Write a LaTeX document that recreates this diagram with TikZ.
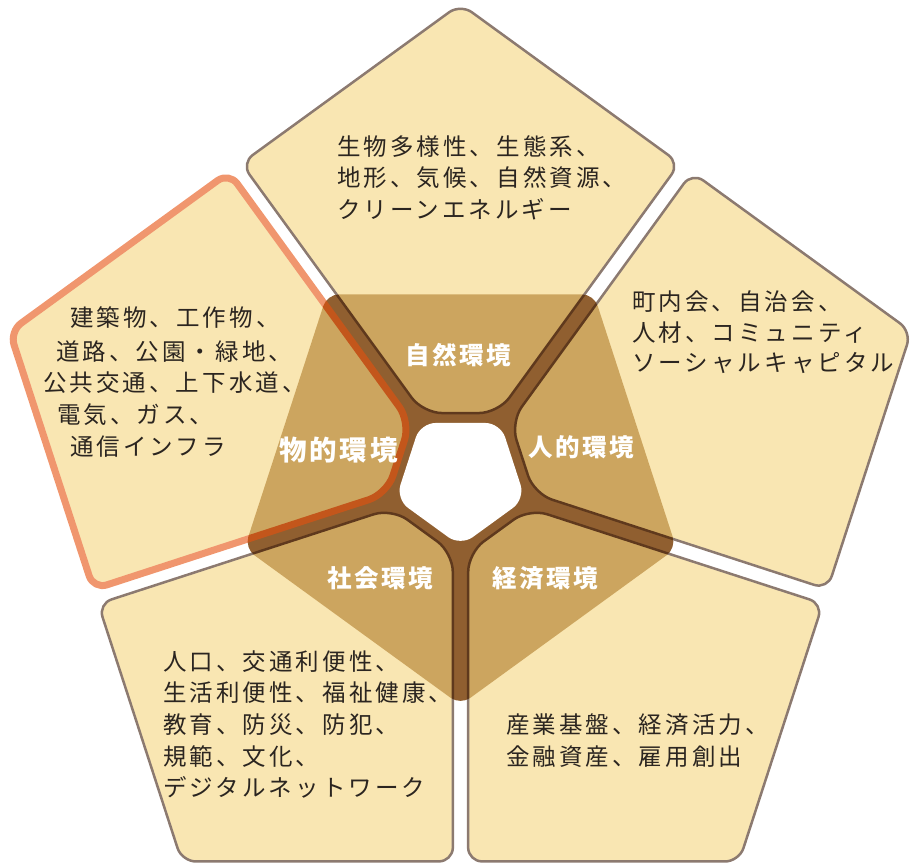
\documentclass[tikz,border=0pt]{standalone}
\usepackage{fontspec}
\newfontfamily\jp[LetterSpace=13]{Noto Sans CJK JP}
\newfontfamily\jpl[LetterSpace=10]{Noto Sans CJK JP}
\definecolor{chan}{RGB}{144,95,48}
\definecolor{piecefill}{RGB}{245,213,127}
\definecolor{piecestroke}{RGB}{63,33,17}
\definecolor{hl}{RGB}{230,80,13}
\definecolor{ink}{RGB}{43,37,32}
\newcommand\pcpath[1]{({#1}:474) -- ({#1+34.86}:383.5) [rounded corners=19pt] -- ({#1+30.11}:75.1) -- ({#1-30.11}:75.1) [rounded corners=14pt] -- ({#1-34.86}:383.5) -- cycle}
\newcommand\pentflat[1]{(-126:#1) -- (-54:#1) -- (18:#1) -- (90:#1) -- (162:#1) -- cycle}
\begin{document}
\begin{tikzpicture}[x=1pt,y=-1pt,
  piece/.style={fill=piecefill, draw=piecestroke, line width=2.5pt, rounded corners=14pt, line join=round},
  hlpiece/.style={fill=piecefill, draw=hl, line width=7pt, rounded corners=14pt, line join=round},
  txt/.style={font=\jp\fontsize{23.5}{28}\selectfont, text=ink, inner sep=0pt, anchor=base west},
  lab/.style={font=\jpl\bfseries\fontsize{24.5}{28}\selectfont, text=white, inner sep=0pt},
  labbig/.style={font=\jpl\bfseries\fontsize{27.5}{30}\selectfont, text=white, inner sep=0pt}]
\useasboundingbox (0,0) rectangle (919,866);
\coordinate (C) at (460.5,478);
\begin{scope}[shift={(460.5,478)}]
  \fill[chan, rounded corners=12pt] \pentflat{227};
  \fill[white, rounded corners=15pt] \pentflat{68};
  \begin{scope}[transparency group, opacity=0.6]
    \draw[piece] \pcpath{-90};
  \end{scope}
  \begin{scope}[transparency group, opacity=0.6]
    \draw[piece] \pcpath{-18};
  \end{scope}
  \begin{scope}[transparency group, opacity=0.6]
    \draw[piece] \pcpath{54};
  \end{scope}
  \begin{scope}[transparency group, opacity=0.6]
    \draw[piece] \pcpath{126};
  \end{scope}
  \begin{scope}[transparency group, opacity=0.6]
    \draw[hlpiece] \pcpath{198};
  \end{scope}
\end{scope}
% labels
\node[lab] (lnat) at (458.5,355) {自然環境};
\node[lab] (lhum) at (581,447) {人的環境};
\node[lab] (leco) at (545,578) {経済環境};
\node[lab] (lsoc) at (380,578) {社会環境};
\node[labbig] (lphy) at (338.5,450) {物的環境};
% top piece
\node[txt] (n1) at (337,155.7) {生物多様性、生態系、};
\node[txt] (n2) at (337,186.7) {地形、気候、自然資源、};
\node[txt] (n3) at (337,218.7) {クリーンエネルギー};
% right piece
\node[txt] (h1) at (632,310.7) {町内会、自治会、};
\node[txt] (h2) at (632,341.7) {人材、コミュニティ};
\node[txt] (h3) at (632,371.7) {ソーシャルキャピタル};
% left piece
\node[txt] (p1) at (70,327) {建築物、工作物、};
\node[txt] (p2) at (56,360.4) {道路、公園・緑地、};
\node[txt] (p3) at (43,392) {公共交通、上下水道、};
\node[txt] (p4) at (57,423.7) {電気、ガス、};
\node[txt] (p5) at (70,455.4) {通信インフラ};
% bottom-left piece
\node[txt] (s1) at (163,670.7) {人口、交通利便性、};
\node[txt] (s2) at (163,701.7) {生活利便性、福祉健康、};
\node[txt] (s3) at (163,733.7) {教育、防災、防犯、};
\node[txt] (s4) at (163,765.7) {規範、文化、};
\node[txt] (s5) at (163,796.7) {デジタルネットワーク};
% bottom-right piece
\node[txt] (e1) at (506,733.7) {産業基盤、経済活力、};
\node[txt] (e2) at (506,765.7) {金融資産、雇用創出};
\end{tikzpicture}
\end{document}
